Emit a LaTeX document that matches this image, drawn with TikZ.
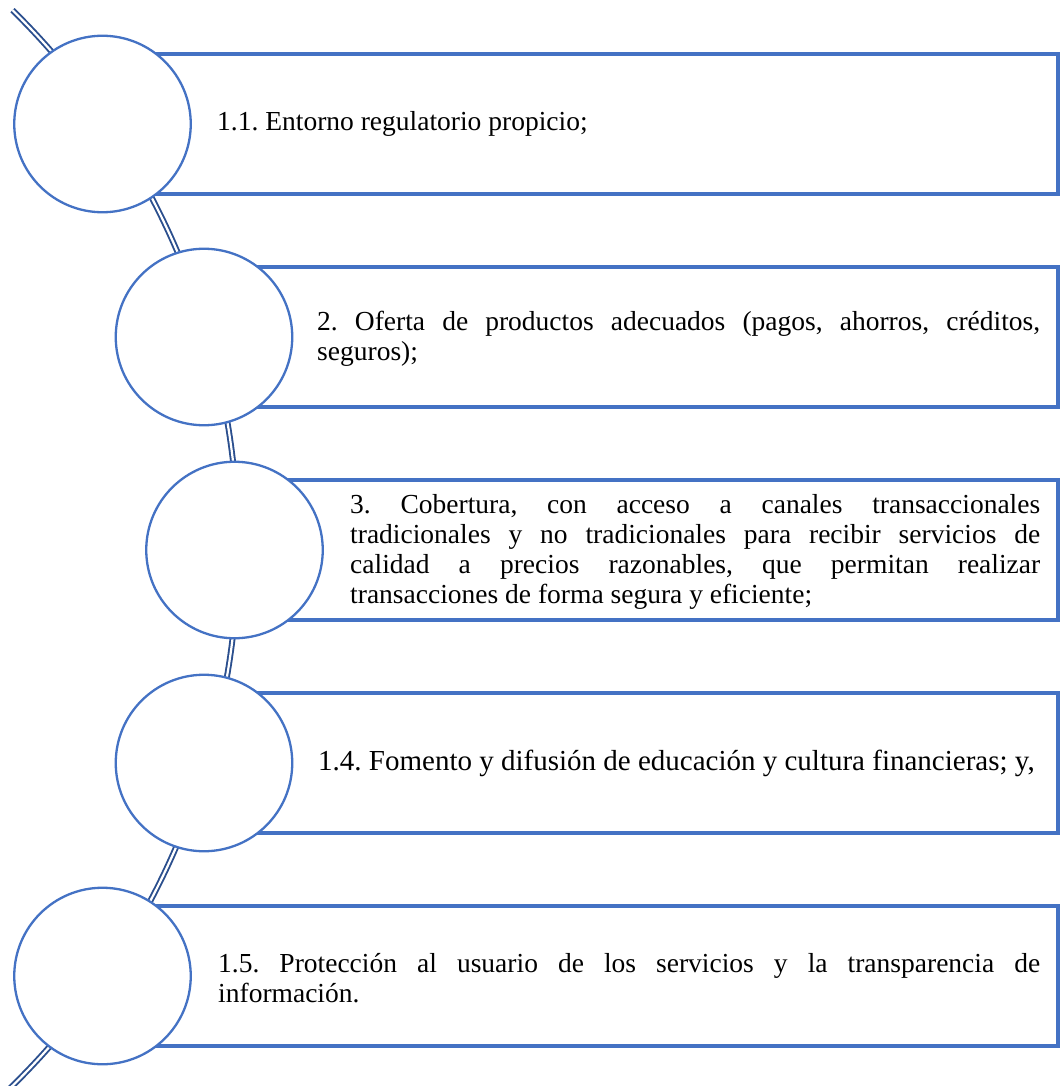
\documentclass[tikz,border=0pt]{standalone}
\usepackage{fontspec}
\setmainfont{Liberation Serif}
\definecolor{circblue}{HTML}{4472C4}
\definecolor{arcblue}{HTML}{2B4F8E}
\hyphenpenalty=10000
\exhyphenpenalty=10000
\frenchspacing
\begin{document}
\begin{tikzpicture}[x=1pt,y=1pt,
  bubble/.style={circle, draw=circblue, line width=2.3pt, fill=white, minimum size=176.5pt, inner sep=0pt},
  panel/.style={draw=circblue, line width=3.8pt, fill=white, minimum height=140pt, inner sep=0pt, anchor=west},
  itemtext/.style={anchor=west, align=justify, inner sep=0pt, font=\fontsize{27.5}{30}\selectfont},
  arcline/.style={draw=arcblue, line width=1.9pt, double=white, double distance=2.2pt}]
\useasboundingbox (0,0) rectangle (1062,-1086);
\clip (0,0) rectangle (1062,-1086);
\coordinate (arcstart) at (12.5,-10.2);
\draw[arcline] (arcstart) arc[start angle=45.5, end angle=-47, radius=754];
% panels
\node[panel, minimum width=953.5pt] (b1) at (102.5,-124) {};
\node[panel, minimum width=852pt] (b2) at (204,-337) {};
\node[panel, minimum width=821.5pt] (b3) at (234.5,-550) {};
\node[panel, minimum width=852pt] (b4) at (204,-763) {};
\node[panel, minimum width=953.5pt] (b5) at (102.5,-976) {};
% circles
\node[bubble] (c1) at (102.5,-124) {};
\node[bubble] (c2) at (204,-337) {};
\node[bubble] (c3) at (234.5,-550) {};
\node[bubble] (c4) at (204,-763) {};
\node[bubble] (c5) at (102.5,-976) {};
% texts
\node[itemtext, text width=823pt] (t1) at (217,-124) {1.1. Entorno regulatorio propicio;};
\node[itemtext, text width=723pt] (t2) at (317,-339) {2. Oferta de productos adecuados (pagos, ahorros, créditos,\linebreak seguros);};
\node[itemtext, text width=690pt] (t3) at (350,-552) {3. Cobertura, con acceso a canales transaccionales\linebreak tradicionales y no tradicionales para recibir servicios de\linebreak calidad a precios razonables, que permitan realizar\linebreak transacciones de forma segura y eficiente;};
\node[itemtext, text width=725pt, font=\fontsize{29}{31}\selectfont] (t4) at (318,-763) {1.4. Fomento y difusión de educación y cultura financieras; y,};
\node[itemtext, text width=822pt] (t5) at (218,-978) {1.5. Protección al usuario de los servicios y la transparencia de\linebreak información.};
\end{tikzpicture}
\end{document}
